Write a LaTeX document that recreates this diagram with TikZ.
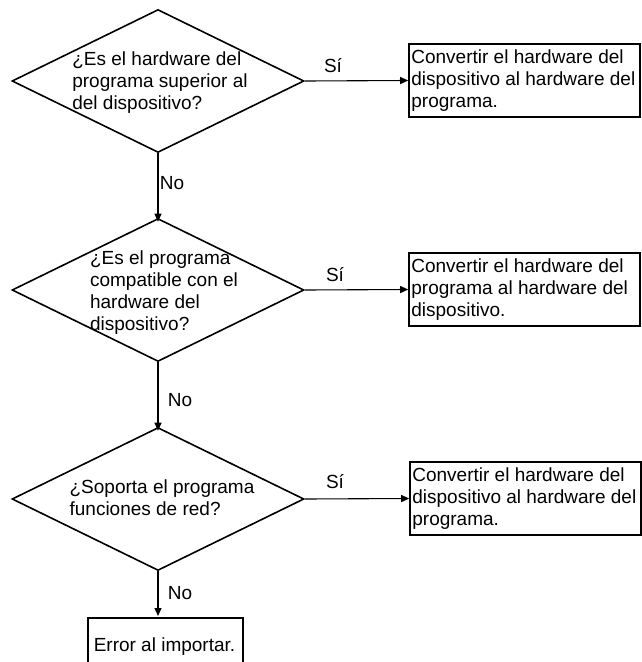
\documentclass[tikz,border=0pt]{standalone}
\usepackage{fontspec}
\setmainfont{Liberation Sans}
\usetikzlibrary{shapes.geometric,arrows.meta}
\begin{document}
\begin{tikzpicture}[x=1pt,y=-1pt,
  dia/.style={draw,line width=1.6pt,diamond,minimum width=292pt,minimum height=143pt,inner sep=0pt},
  txt/.style={font=\fontsize{19pt}{22pt}\selectfont,align=left,inner sep=0pt},
  outbox/.style={draw,line width=1.6pt,minimum width=231pt,minimum height=73pt,inner sep=0pt},
  conn/.style={line width=1.1pt,-{Triangle[length=8pt,width=7pt]}},
  lab/.style={font=\fontsize{19pt}{22pt}\selectfont,inner sep=0pt}]
\useasboundingbox (0,0) rectangle (641,662);
% decisions
\node[dia] (d1) at (158,81) {};
\node[txt] (t1) at (160,83) {¿Es el hardware del\\programa superior al\\del dispositivo?};
\node[dia] (d2) at (158,290) {};
\node[txt] (t2) at (164,293) {¿Es el programa\\compatible con el\\hardware del\\dispositivo?};
\node[dia] (d3) at (158,499) {};
\node[txt] (t3) at (162,498) {¿Soporta el programa\\funciones de red?};
% output boxes
\node[outbox] (b1) at (524.5,80.5) {};
\node[txt,anchor=west] (bt1) at ([xshift=3pt]b1.west) {Convertir el hardware del\\dispositivo al hardware del\\programa.};
\node[outbox] (b2) at (524.5,289.5) {};
\node[txt,anchor=west] (bt2) at ([xshift=3pt]b2.west) {Convertir el hardware del\\programa al hardware del\\dispositivo.};
\node[outbox] (b3) at (525.5,498.5) {};
\node[txt,anchor=west] (bt3) at ([xshift=3pt]b3.west) {Convertir el hardware del\\dispositivo al hardware del\\programa.};
\draw[line width=1.6pt] (88,680) -- (88,618) coordinate (e1) -- (243,618) coordinate (e2) -- (243,680);
\node[lab] (err) at (164.5,647) {Error al importar.};
\coordinate (etop) at (158,616);
% connectors
\draw[conn] (d1.east) -- (b1.west);
\draw[conn] (d2.east) -- (b2.west);
\draw[conn] (d3.east) -- (b3.west);
\draw[conn] (d1.south) -- ([yshift=-4pt]d2.north);
\draw[conn] (d2.south) -- ([yshift=-4pt]d3.north);
\draw[conn] (d3.south) -- (etop);
% labels
\node[lab] (s1) at (333,66) {Sí};
\node[lab] (s2) at (335,275) {Sí};
\node[lab] (s3) at (335,482) {Sí};
\node[lab] (n1) at (172,183) {No};
\node[lab] (n2) at (180,400) {No};
\node[lab] (n3) at (180,593) {No};
\end{tikzpicture}
\end{document}
